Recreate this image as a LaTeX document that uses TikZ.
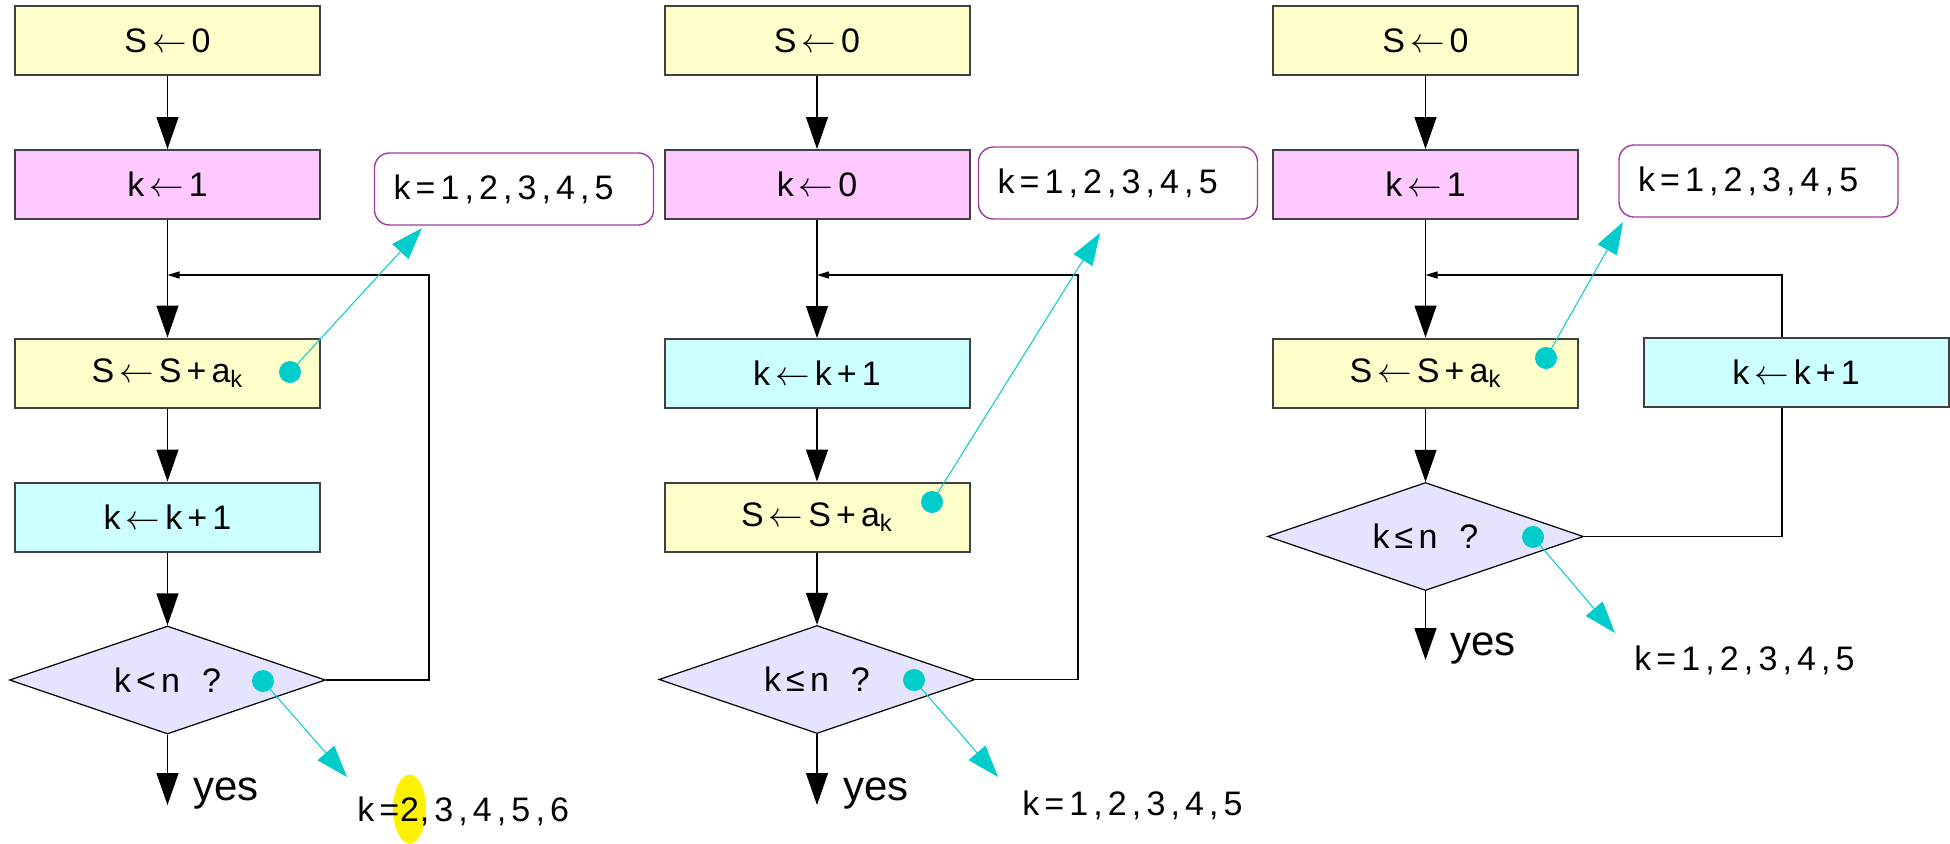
\documentclass[tikz,border=0pt]{standalone}
\usepackage{fontspec}
\setmainfont{Liberation Sans}
\newfontfamily\gfont[LetterSpace=15]{Liberation Sans}
\usetikzlibrary{arrows.meta,shapes.geometric,backgrounds}
\definecolor{byellow}{RGB}{255,255,204}
\definecolor{bpink}{RGB}{255,200,255}
\definecolor{bcyan}{RGB}{204,255,255}
\definecolor{dlav}{RGB}{228,228,255}
\definecolor{npurple}{RGB}{160,60,160}
\definecolor{dcyan}{RGB}{0,204,204}
\definecolor{bord}{RGB}{64,64,64}
\newcommand\lar{\kern2.5pt$\leftarrow$\kern2.5pt}
\begin{document}
\begin{tikzpicture}[x=0.5pt,y=-0.5pt,
  box/.style={draw=bord,line width=1pt,minimum width=152.5pt,minimum height=34.5pt,inner sep=0pt,font=\gfont\fontsize{17}{20}\selectfont},
  ybox/.style={box,fill=byellow},
  pbox/.style={box,fill=bpink},
  cbox/.style={box,fill=bcyan},
  dec/.style={diamond,draw=black,line width=0.6pt,fill=dlav,minimum width=158pt,minimum height=54pt,inner sep=0pt,aspect=2.93,font=\gfont\fontsize{17}{20}\selectfont},
  note/.style={draw=npurple,line width=0.7pt,rounded corners=7.5pt,minimum width=139.5pt,minimum height=36pt,text width=120.5pt,inner xsep=9.5pt,align=left,font=\gfont\fontsize{17}{20}\selectfont},
  dot/.style={circle,fill=dcyan,minimum size=11pt,inner sep=0pt},
  lab/.style={inner sep=0pt,font=\gfont\fontsize{17}{20}\selectfont},
  yeslab/.style={inner sep=0pt,font=\fontsize{21}{25}\selectfont},
  flow/.style={draw=black,line width=0.65pt,-{Triangle[length=16pt,width=11pt]}},
  line/.style={draw=black,line width=0.65pt},
  back/.style={draw=black,line width=0.65pt,-{Triangle[length=6pt,width=3.5pt]}},
  hint/.style={draw=dcyan,line width=0.5pt,-{Triangle[length=16pt,width=11pt]}},
]
\path[use as bounding box] (0,0) rectangle (1950,843);

% ---------- column 1 ----------
\node[ybox] (s0a) at (167.5,40.5) {S\lar0};
\node[pbox] (k1a) at (167.5,184.5) {k\lar1};
\node[ybox] (sa) at (167.5,373) {S\lar S+a\textsubscript{k}};
\node[cbox] (kka) at (167.5,517) {k\lar k+1};
\node[dec] (da) at (167.5,680) {k<n\hspace{11pt}?};
\coordinate (ya) at (167.5,805);
\coordinate (ja) at (167.5,275);
\coordinate (ca) at (429,275);
\node[note] (na) at (514,189) {k=1,2,3,4,5};
\node[dot] (dsa) at (290,372) {};
\coordinate (tsa) at (422,228);
\node[dot] (dda) at (263,681) {};
\coordinate (tda) at (347,777);
\node[yeslab,anchor=base west] (yesa) at (193,800) {yes};
\node[lab,anchor=base west] (la1) at (357,821) {k=};
\node[lab,anchor=base west] (la2) at (la1.base east) {2};
\node[lab,anchor=base west] (la3) at (la2.base east) {,3,4,5,6};

\draw[flow] (s0a) -- (k1a);
\draw[flow] (k1a) -- (sa);
\draw[flow] (sa) -- (kka);
\draw[flow] (kka) -- (da);
\draw[flow] (da) -- (ya);
\draw[back] (da.east) -| (ca) -- (ja);
\draw[hint] (dsa.center) -- (tsa);
\draw[hint] (dda.center) -- (tda);

% ---------- column 2 ----------
\node[ybox] (s0b) at (817,40.5) {S\lar0};
\node[pbox] (k0b) at (817,184.5) {k\lar0};
\node[cbox] (kkb) at (817,373.5) {k\lar k+1};
\node[ybox] (sb) at (817,517) {S\lar S+a\textsubscript{k}};
\node[dec] (db) at (817,679.5) {k≤n\hspace{11pt}?};
\coordinate (yb) at (817,805);
\coordinate (jb) at (817,275);
\coordinate (cb) at (1078,275);
\node[note] (nb) at (1118,183) {k=1,2,3,4,5};
\node[dot] (dsb) at (932,502) {};
\coordinate (tsb) at (1100,233);
\node[dot] (ddb) at (914,680) {};
\coordinate (tdb) at (998,777);
\node[yeslab,anchor=base west] (yesb) at (843,800) {yes};
\node[lab,anchor=base west] (lb) at (1022,815) {k=1,2,3,4,5};

\draw[flow] (s0b) -- (k0b);
\draw[flow] (k0b) -- (kkb);
\draw[flow] (kkb) -- (sb);
\draw[flow] (sb) -- (db);
\draw[flow] (db) -- (yb);
\draw[back] (db.east) -| (cb) -- (jb);
\draw[hint] (dsb.center) -- (tsb);
\draw[hint] (ddb.center) -- (tdb);

% ---------- column 3 ----------
\node[ybox] (s0c) at (1425.5,40.5) {S\lar0};
\node[pbox] (k1c) at (1425.5,184.5) {k\lar1};
\node[ybox] (sc) at (1425.5,373) {S\lar S+a\textsubscript{k}};
\node[dec] (dc) at (1425.5,536.5) {k≤n\hspace{11pt}?};
\node[cbox] (kkc) at (1796,372.5) {k\lar k+1};
\coordinate (yc) at (1425.5,660);
\coordinate (jc) at (1425.5,275);
\coordinate (cc) at (1782,275);
\node[note] (nc) at (1758.5,181) {k=1,2,3,4,5};
\node[dot] (dsc) at (1546,358) {};
\coordinate (tsc) at (1623,222);
\node[dot] (ddc) at (1533,537) {};
\coordinate (tdc) at (1615,633);
\node[yeslab,anchor=base west] (yesc) at (1450,655) {yes};
\node[lab,anchor=base west] (lc) at (1634,670) {k=1,2,3,4,5};

\draw[flow] (s0c) -- (k1c);
\draw[flow] (k1c) -- (sc);
\draw[flow] (sc) -- (dc);
\draw[flow] (dc) -- (yc);
\draw[line] (dc.east) -| (kkc.south -| cc);
\draw[back] (kkc.north -| cc) |- (jc);
\draw[hint] (dsc.center) -- (tsc);
\draw[hint] (ddc.center) -- (tdc);

\begin{scope}[on background layer]
\fill[white] (0,0) rectangle (1950,843);
\fill[yellow] (la2.center) ellipse [x radius=8.25pt,y radius=17.25pt];
\end{scope}
\end{tikzpicture}
\end{document}
